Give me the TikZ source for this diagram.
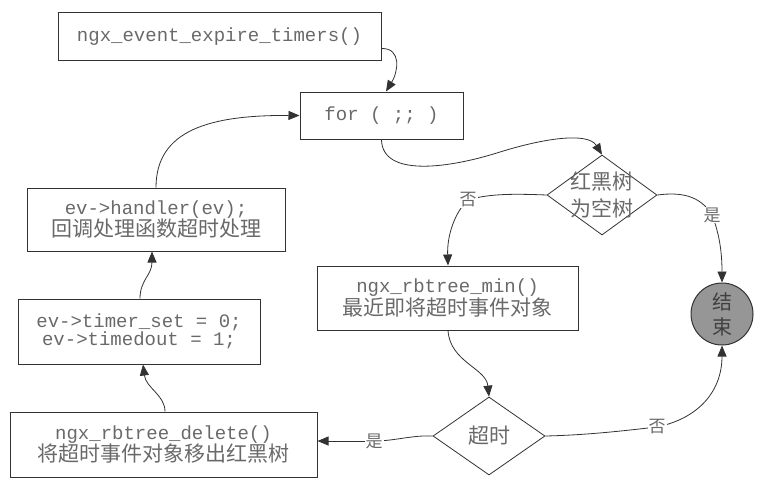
\documentclass[tikz,border=0pt]{standalone}
\usepackage{fontspec}
\setmonofont{Liberation Mono}
\newfontfamily\cjk{Noto Sans CJK SC}
\usetikzlibrary{shapes.geometric,arrows.meta}
\definecolor{txt}{RGB}{105,105,105}
\definecolor{ln}{RGB}{50,50,50}
\definecolor{endfill}{RGB}{150,150,150}
\newcommand\zh{\cjk\fontsize{21}{27}\selectfont}
\newcommand\code{\ttfamily\fontsize{19}{27}\selectfont}
\newcommand\lb{\cjk\fontsize{17}{20}\selectfont}
\tikzset{
  box/.style={draw=ln, line width=1pt, rectangle, inner sep=0pt, text=txt, align=center},
  dia/.style={draw=ln, line width=0.8pt, diamond, inner sep=0pt},
  arr/.style={draw=ln, line width=0.8pt, -{Triangle[length=11pt,width=9pt]}},
  ln/.style={draw=ln, line width=0.8pt},
  lab/.style={text=txt, fill=white, inner sep=1pt, font=\lb},
}
\begin{document}
\begin{tikzpicture}[x=1pt,y=-1pt]
\useasboundingbox (0,0) rectangle (762,482);
% nodes
\node[box, minimum width=323pt, minimum height=48pt] (b1) at (219.5,36.5) {\code ngx\_event\_expire\_timers()};
\node[box, minimum width=163pt, minimum height=47pt] (for) at (381.5,115.5) {\code for ( ;; )};
\node[dia, minimum width=110pt, minimum height=80pt] (d1) at (602,195) {};
\node[text=txt, align=center, font=\zh] (d1t) at (d1) {红黑树\\为空树};
\node[box, minimum width=261pt, minimum height=64pt] (rmin) at (447.5,298) {\code ngx\_rbtree\_min()\\\zh 最近即将超时事件对象};
\node[draw=ln, line width=1pt, circle, fill=endfill, minimum size=62pt, inner sep=0pt, align=center, text=black!75, font=\cjk\fontsize{20}{25}\selectfont] (end) at (722,314) {结\\束};
\node[dia, minimum width=112pt, minimum height=78pt] (d2) at (489,436) {};
\node[text=txt, font=\zh] (d2t) at (d2) {超时};
\node[box, minimum width=307pt, minimum height=65pt] (del) at (163.5,444.5) {\code ngx\_rbtree\_delete()\\\zh 将超时事件对象移出红黑树};
\node[box, minimum width=242pt, minimum height=65pt] (tim) at (139,331.5) {\code ev->timer\_set = 0;\\\code ev->timedout = 1;};
\node[box, minimum width=258pt, minimum height=63pt] (hnd) at (156,219.5) {\code ev->handler(ev);\\\zh 回调处理函数超时处理};
% label positions
\coordinate (l1) at (468,200);
\coordinate (l2) at (712,215);
\coordinate (l3) at (374,441);
\coordinate (l4) at (657,427);
% connectors
\draw[arr] ([yshift=-12pt]b1.east) .. controls (402,48) and (398,72) .. ([xshift=4.5pt]for.north);
\draw[arr] (for.south) .. controls (382,178) and (450,168) .. (500,152) .. controls (545,138) and (588,132) .. (d1.north);
\draw[arr] (hnd.north) .. controls (156,130) and (210,115) .. (for.west);
\draw[ln] (d1.west) .. controls (520,194) and (490,193) .. (l1);
\draw[arr] (l1) .. controls (455,212) and (447,235) .. ([xshift=0.5pt]rmin.north);
\draw[ln] (d1.east) .. controls (680,192) and (700,195) .. (l2);
\draw[arr] (l2) .. controls (720,235) and (722,255) .. (end.north);
\draw[arr] ([xshift=0.5pt]rmin.south) .. controls (450,362) and (486,368) .. (d2.north);
\draw[ln] (d2.west) .. controls (412,435) and (395,441) .. (l3);
\draw[arr] (l3) -- (l3 -| del.east);
\draw[ln] (d2.east) .. controls (590,435) and (630,430) .. (l4);
\draw[arr] (l4) .. controls (700,418) and (722,390) .. (end.south);
\draw[arr] ([xshift=1.5pt]del.north) .. controls (165,395) and (146,388) .. ([xshift=4pt]tim.south);
\draw[arr] ([xshift=1pt]tim.north) .. controls (140,280) and (152,275) .. ([xshift=-4pt]hnd.south);
% labels
\node[lab] at (l1) {否};
\node[lab] at (l2) {是};
\node[lab] at (l3) {是};
\node[lab] at (l4) {否};
\end{tikzpicture}
\end{document}
